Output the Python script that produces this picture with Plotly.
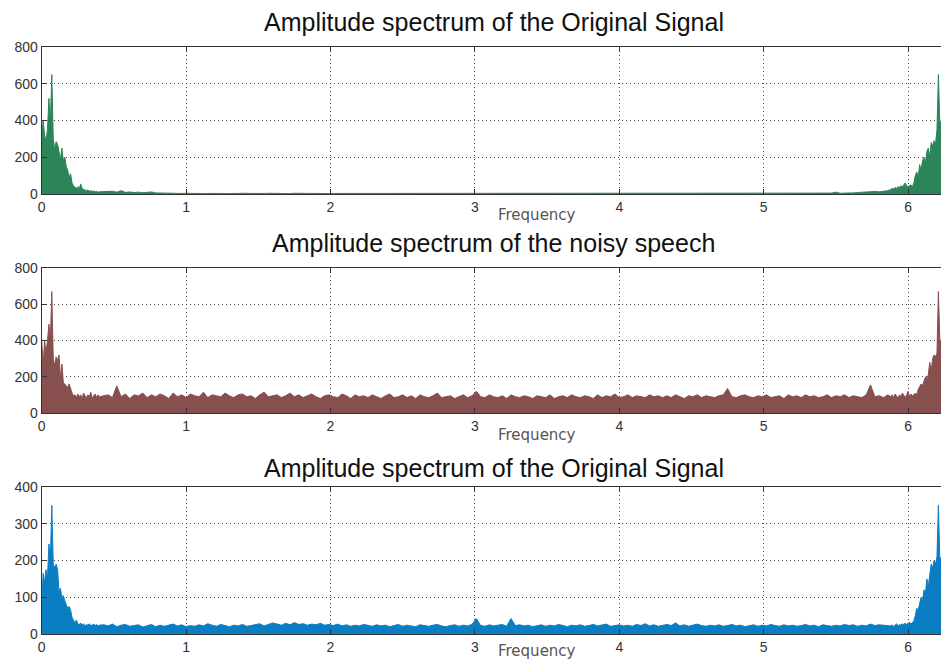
import plotly.graph_objects as go

# ---------------- data ----------------
# frequency bins: dense near 0 and 2*pi, coarser in the middle
freq_low = [round(0.01 * k, 2) for k in range(41)]            # 0.00 .. 0.40
freq_mid = [round(0.43 + 0.03 * k, 2) for k in range(182)]    # 0.43 .. 5.86
freq_high = [round(5.88 + 0.01 * k, 2) for k in range(36)]    # 5.88 .. 6.23

orig_low = [300, 400, 320, 290, 350, 520, 390, 650, 300, 240,
            285, 270, 230, 190, 250, 180, 200, 150, 130, 90,
            110, 60, 45, 35, 30, 40, 28, 55, 30, 25,
            20, 18, 22, 15, 18, 14, 16, 12, 15, 10,
            12]
orig_mid = [14, 12, 15, 10, 18, 9, 11, 8, 10, 7,
            9, 11, 6, 5, 6, 4, 5, 4, 3, 4,
            3, 4, 3, 2, 3, 4, 3, 3, 2, 3,
            3, 2, 3, 4, 3, 2, 3, 3, 4, 3,
            2, 3, 3, 2, 4, 3, 3, 2, 3, 3,
            4, 3, 2, 3, 3, 4, 3, 2, 3, 4,
            3, 4, 5, 4, 4, 5, 4, 3, 4, 5,
            4, 5, 4, 4, 5, 4, 5, 4, 3, 4,
            4, 3, 4, 3, 3, 4, 3, 2, 3, 3,
            3, 2, 3, 3, 2, 3, 4, 3, 2, 3,
            3, 3, 2, 3, 4, 3, 2, 3, 3, 2,
            3, 2, 3, 3, 2, 3, 3, 2, 3, 3,
            2, 3, 3, 2, 3, 2, 3, 3, 2, 3,
            3, 2, 3, 3, 2, 3, 2, 3, 3, 2,
            3, 3, 2, 3, 2, 3, 3, 2, 3, 3,
            2, 3, 3, 2, 3, 3, 2, 3, 3, 2,
            3, 2, 3, 3, 4, 3, 4, 3, 5, 10,
            4, 5, 4, 6, 8, 10, 12, 11, 14, 12,
            15, 18]
orig_high = [25, 30, 28, 35, 30, 40, 35, 45, 38, 50,
             60, 45, 40, 45, 50, 40, 60, 100, 120, 90,
             160, 130, 180, 200, 170, 230, 250, 200, 280, 260,
             290, 270, 350, 650, 380, 400]

noisy_low = [400, 260, 400, 330, 400, 490, 400, 670, 300, 260,
             310, 290, 320, 190, 270, 165, 160, 150, 140, 160,
             130, 110, 95, 100, 85, 105, 90, 100, 80, 110,
             95, 85, 100, 90, 115, 80, 95, 105, 85, 100,
             90]
noisy_mid = [95, 100, 85, 150, 90, 105, 80, 100, 95, 110,
             85, 100, 90, 105, 95, 80, 110, 90, 100, 85,
             105, 95, 90, 115, 85, 100, 95, 90, 110, 95,
             85, 100, 105, 90, 95, 80, 100, 115, 90, 95,
             100, 85, 95, 110, 90, 100, 85, 95, 105, 90,
             80, 95, 100, 90, 85, 105, 95, 80, 100, 90,
             95, 85, 100, 90, 80, 95, 105, 85, 90, 100,
             85, 95, 80, 100, 90, 85, 95, 110, 85, 90,
             95, 80, 90, 100, 85, 95, 120, 90, 85, 100,
             90, 85, 95, 80, 100, 90, 85, 95, 90, 80,
             95, 90, 85, 100, 80, 90, 95, 85, 100, 90,
             85, 95, 90, 80, 100, 85, 95, 90, 105, 85,
             90, 100, 85, 95, 90, 85, 100, 90, 95, 85,
             95, 85, 100, 90, 80, 95, 90, 100, 85, 95,
             90, 85, 95, 100, 135, 90, 85, 95, 100, 90,
             85, 95, 90, 100, 85, 90, 95, 80, 100, 90,
             95, 85, 100, 90, 95, 85, 90, 100, 85, 95,
             90, 100, 85, 95, 90, 85, 100, 155, 90, 95,
             85, 100]
noisy_high = [90, 100, 85, 105, 95, 80, 100, 90, 110, 95,
              85, 100, 120, 90, 105, 95, 100, 110, 100, 130,
              145, 160, 150, 170, 200, 190, 210, 280, 230, 300,
              320, 310, 330, 670, 400, 400]

clean_low = [75, 165, 140, 175, 150, 245, 205, 350, 190, 180,
             190, 175, 115, 125, 95, 105, 90, 80, 70, 75,
             65, 45, 35, 30, 38, 28, 25, 30, 24, 28,
             22, 26, 24, 28, 22, 25, 27, 23, 26, 22,
             24]
clean_mid = [25, 22, 27, 20, 24, 26, 21, 23, 25, 19,
             22, 26, 20, 24, 21, 23, 27, 22, 25, 20,
             23, 21, 25, 22, 28, 24, 21, 26, 23, 20,
             24, 22, 26, 21, 23, 25, 28, 22, 26, 30,
             27, 24, 29, 25, 31, 26, 28, 24, 27, 25,
             29, 24, 26, 23, 27, 22, 25, 21, 24, 22,
             26, 23, 21, 25, 22, 24, 20, 23, 26, 21,
             24, 22, 20, 25, 23, 21, 24, 26, 22, 20,
             23, 25, 21, 24, 22, 26, 42, 23, 21, 25,
             22, 24, 26, 21, 42, 23, 25, 22, 24, 20,
             23, 25, 21, 24, 22, 26, 23, 20, 24, 22,
             25, 21, 23, 26, 22, 24, 27, 21, 23, 25,
             22, 24, 21, 26, 23, 28, 22, 25, 21, 24,
             26, 23, 30, 22, 25, 21, 24, 27, 23, 21,
             24, 22, 25, 21, 23, 26, 22, 24, 20, 23,
             25, 21, 24, 22, 26, 23, 21, 25, 22, 24,
             21, 23, 26, 22, 24, 20, 25, 23, 21, 24,
             22, 26, 23, 25, 21, 24, 22, 27, 23, 25,
             24, 22]
clean_high = [22, 25, 20, 24, 28, 22, 26, 24, 28, 25,
              30, 26, 28, 32, 27, 30, 35, 50, 70, 65,
              85, 100, 90, 120, 110, 150, 130, 170, 190, 180,
              200, 190, 210, 350, 200, 210]

titles = ["Amplitude spectrum of the Original Signal",
          "Amplitude spectrum of the noisy speech",
          "Amplitude spectrum of the Original Signal"]
x_label = "Frequency"
x_ticks = [0, 1, 2, 3, 4, 5, 6]
y_ticks_top = [0, 200, 400, 600, 800]
y_ticks_bottom = [0, 100, 200, 300, 400]

# ---------------- figure ----------------
W, H = 941, 659
freq = freq_low + freq_mid + freq_high
series = [orig_low + orig_mid + orig_high,
          noisy_low + noisy_mid + noisy_high,
          clean_low + clean_mid + clean_high]
colors = ["#2b8558", "#87504f", "#0b7dc3"]
# panel pixel boxes (top, bottom)
panels = [(47, 194), (268, 413), (487, 634)]
title_y = [22, 243, 468]
label_y = [215, 435, 651]
y_ranges = [[0, 800], [0, 800], [0, 400]]
y_ticks = [y_ticks_top, y_ticks_top, y_ticks_bottom]

x0 = 41.7 / W
fig = go.Figure()
layout = dict(width=W, height=H, margin=dict(l=0, r=0, t=0, b=0),
              paper_bgcolor="white", plot_bgcolor="white",
              showlegend=False, hovermode=False, annotations=[])

tickfont = dict(family="Liberation Sans, Arial, sans-serif", size=14, color="#333333")
grid = dict(showgrid=True, gridcolor="rgba(40,40,40,0.85)", griddash="1px,3px", gridwidth=1)
for i in range(3):
    sx = "" if i == 0 else str(i + 1)
    fig.add_trace(go.Scatter(x=freq, y=series[i], mode="lines",
                             line=dict(color=colors[i], width=1),
                             fill="tozeroy", fillcolor=colors[i],
                             xaxis="x" + sx, yaxis="y" + sx))
    top, bot = panels[i]
    layout["xaxis" + sx] = dict(
        domain=[x0, 1], anchor="y" + sx, range=[0, 6.228],
        tickvals=x_ticks, ticks="inside", ticklen=5, tickcolor="#333333",
        showline=True, linecolor="#333333", linewidth=1, mirror="ticks",
        zeroline=False, tickfont=tickfont, automargin=False, layer="above traces", **grid)
    layout["yaxis" + sx] = dict(
        domain=[1 - bot / H, 1 - top / H], anchor="x" + sx, range=y_ranges[i],
        tickvals=y_ticks[i], ticks="inside", ticklen=5, tickcolor="#333333",
        showline=True, linecolor="#333333", linewidth=1,
        zeroline=False, tickfont=tickfont, automargin=False, layer="above traces", **grid)
    layout["annotations"].append(dict(
        text=titles[i], xref="paper", yref="paper", x=494 / W, y=1 - title_y[i] / H,
        xanchor="center", yanchor="middle", showarrow=False,
        font=dict(family="Liberation Sans, Arial, sans-serif", size=25, color="#111111")))
    layout["annotations"].append(dict(
        text=x_label, xref="paper", yref="paper", x=537 / W, y=1 - label_y[i] / H,
        xanchor="center", yanchor="middle", showarrow=False,
        font=dict(family="DejaVu Sans, sans-serif", size=15, color="#555555")))

fig.update_layout(**layout)
fig.write_html("out.html")
